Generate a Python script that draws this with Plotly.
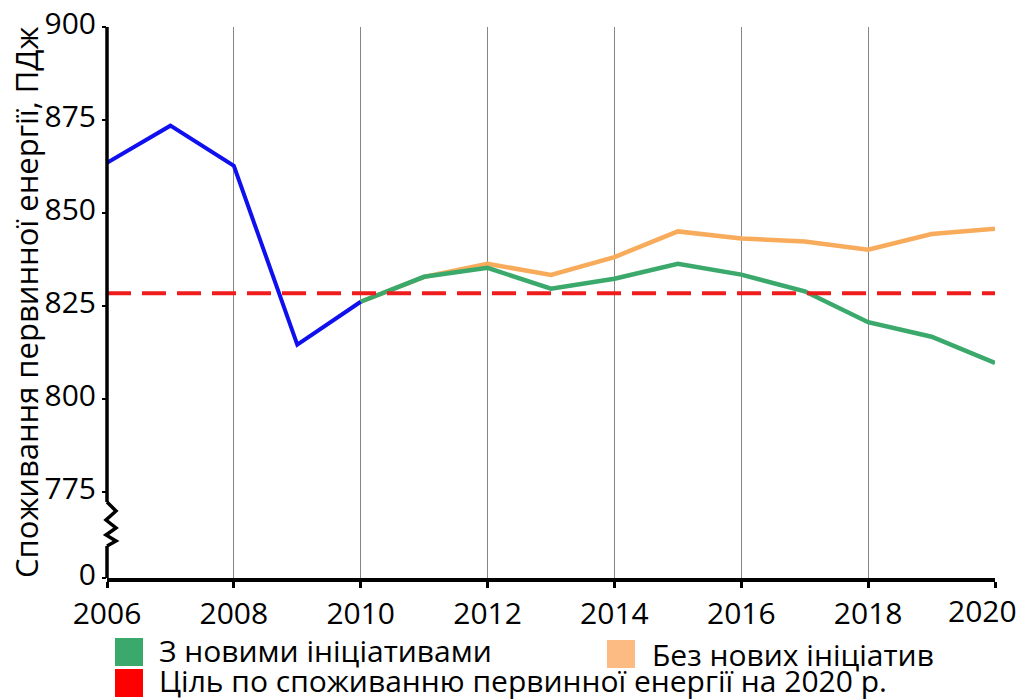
import plotly.graph_objects as go

# ---------------- data ----------------
years_hist = [2006, 2007, 2008, 2009, 2010]
hist_values = [863.5, 873.5, 862.7, 814.7, 826.2]

years_proj = [2010, 2011, 2012, 2013, 2014, 2015, 2016, 2017, 2018, 2019, 2020]
with_initiatives = [826.2, 832.9, 835.3, 829.7, 832.4, 836.4, 833.5, 829.0, 820.7, 816.8, 809.8]
without_initiatives = [826.2, 832.9, 836.4, 833.4, 838.2, 845.1, 843.2, 842.4, 840.2, 844.4, 845.8]

target_years = [2006, 2020]
target_value = 828.5

# broken axis: the "0" label is drawn at the bottom of the visible range
y_break_zero = 752
y_tick_vals = [y_break_zero, 775, 800, 825, 850, 875, 900]
y_tick_text = ["0", "775", "800", "825", "850", "875", "900"]
y_grid_vals = [800, 825, 850, 900]
x_tick_vals = [2006, 2008, 2010, 2012, 2014, 2016, 2018, 2020]
x_tick_text = ["2006", "2008", "2010", "2012", "2014", "2016", "2018", ""]
x_last_label = "2020"  # drawn right-aligned so it stays inside the page

legend_labels = ["З новими ініціативами", "Без нових ініціатив",
                 "Ціль по споживанню первинної енергії на 2020 р."]
y_title = "Споживання первинної енергії, ПДж"

# ---------------- layout geometry ----------------
OFF = 8  # page body margin
W, H = 1025 - OFF, 700 - OFF
ML, MR, MT, MB = 107 - OFF, 30, 27 - OFF, 122
PW, PH = W - ML - MR, H - MT - MB
Y_RANGE = [y_break_zero, 900]

# helpers take page-pixel coordinates (as measured on the 1025x700 picture)
def px_x(px):
    return (px - OFF - ML) / PW

def px_y(py):
    return (H - MB - (py - OFF)) / PH

def yval(py):
    return Y_RANGE[1] - (py - OFF - MT) * (Y_RANGE[1] - Y_RANGE[0]) / PH

FONT = "Open Sans"
BLUE = "#1010ee"
GREEN = "#3aa96b"
ORANGE = "#f9ab5c"
RED = "#ee1c1c"
GRID = "#858585"

fig = go.Figure()

fig.add_trace(go.Scatter(x=years_proj, y=without_initiatives, mode="lines",
                         line=dict(color=ORANGE, width=4.5), name=legend_labels[1],
                         showlegend=False))
fig.add_trace(go.Scatter(x=years_proj, y=with_initiatives, mode="lines",
                         line=dict(color=GREEN, width=4.5), name=legend_labels[0],
                         showlegend=False))
fig.add_trace(go.Scatter(x=years_hist, y=hist_values, mode="lines",
                         line=dict(color=BLUE, width=4), name="Факт",
                         showlegend=False))
fig.add_trace(go.Scatter(x=target_years, y=[target_value] * len(target_years), mode="lines",
                         line=dict(color=RED, width=4, dash="24px,11px"),
                         name=legend_labels[2], showlegend=False))

shapes = []
# left axis with zigzag break
shapes.append(dict(type="line", xref="paper", yref="y", x0=0, x1=0,
                   y0=Y_RANGE[0], y1=yval(546), line=dict(color="black", width=3.5)))
shapes.append(dict(type="line", xref="paper", yref="y", x0=0, x1=0,
                   y0=yval(502), y1=Y_RANGE[1], line=dict(color="black", width=3.5)))
zig = [(0, 546), (9, 541), (-1, 535), (9, 528), (-1, 520), (9, 511), (0, 502)]
path = "M" + " L".join(f"{dx},{yval(py):.3f}" for dx, py in zig)
shapes.append(dict(type="path", xref="paper", yref="y", xsizemode="pixel", xanchor=0,
                   path=path, line=dict(color="black", width=3.5)))

# legend squares
sq = [(115, 143, 638, 666, GREEN), (607, 635, 640, 668, "#fdbb84"), (115, 143, 669, 697, "#ff0000")]
for x0, x1, y0, y1, c in sq:
    shapes.append(dict(type="rect", xref="paper", yref="paper",
                       x0=px_x(x0), x1=px_x(x1), y0=px_y(y1), y1=px_y(y0),
                       fillcolor=c, line=dict(width=0)))

LF = dict(size=30, family=FONT, color="black")
TF = dict(size=30, family=FONT, color="black")
annotations = [
    dict(text=legend_labels[0], xref="paper", yref="paper", x=px_x(157), y=px_y(650),
         xanchor="left", yanchor="middle", showarrow=False, font=LF),
    dict(text=legend_labels[1], xref="paper", yref="paper", x=px_x(650), y=px_y(654),
         xanchor="left", yanchor="middle", showarrow=False, font=LF),
    dict(text=legend_labels[2], xref="paper", yref="paper", x=px_x(157), y=px_y(680),
         xanchor="left", yanchor="middle", showarrow=False, font=LF),
    dict(text=y_title, xref="paper", yref="paper", x=px_x(26), y=px_y(303), textangle=-90,
         xanchor="center", yanchor="middle", showarrow=False,
         font=dict(size=31, family=FONT, color="black")),
    dict(text=x_last_label, xref="x", yref="paper", x=x_tick_vals[-1], xshift=24,
         y=px_y(610), xanchor="right", yanchor="middle", showarrow=False, font=TF),
]

fig.update_layout(
    width=W, height=H, autosize=False,
    margin=dict(l=ML, r=MR, t=MT, b=MB, pad=0),
    paper_bgcolor="white", plot_bgcolor="white",
    font=dict(family=FONT, size=30, color="black"),
    showlegend=False,
    shapes=shapes, annotations=annotations,
    xaxis=dict(range=[2006, 2020], tickvals=x_tick_vals, ticktext=x_tick_text, showgrid=True,
               gridcolor=GRID, gridwidth=1, showline=True, linecolor="black",
               linewidth=3.5, ticks="outside", ticklen=6, tickwidth=3, tickcolor="black",
               zeroline=False, tickfont=TF, ticklabeloverflow="allow", automargin=False),
    xaxis2=dict(range=[2006, 2020], overlaying="x", anchor="y", side="top",
                showgrid=False, showticklabels=False, ticks="", showline=True,
                linecolor=GRID, linewidth=1, zeroline=False, automargin=False),
    yaxis=dict(range=Y_RANGE, tickvals=y_tick_vals, ticktext=y_tick_text, showgrid=False,
               showline=False, zeroline=False, ticks="outside", ticklen=4, tickwidth=2,
               tickcolor="black", tickfont=TF, ticklabeloverflow="allow", automargin=False,
               ticklabelshift=-4),
    yaxis2=dict(range=Y_RANGE, overlaying="y", anchor="x", side="right",
                tickvals=y_grid_vals, showgrid=True, gridcolor=GRID, gridwidth=1,
                showticklabels=False, ticks="", showline=True, linecolor=GRID,
                linewidth=1, zeroline=False, automargin=False),
)

fig.write_html("out.html")
